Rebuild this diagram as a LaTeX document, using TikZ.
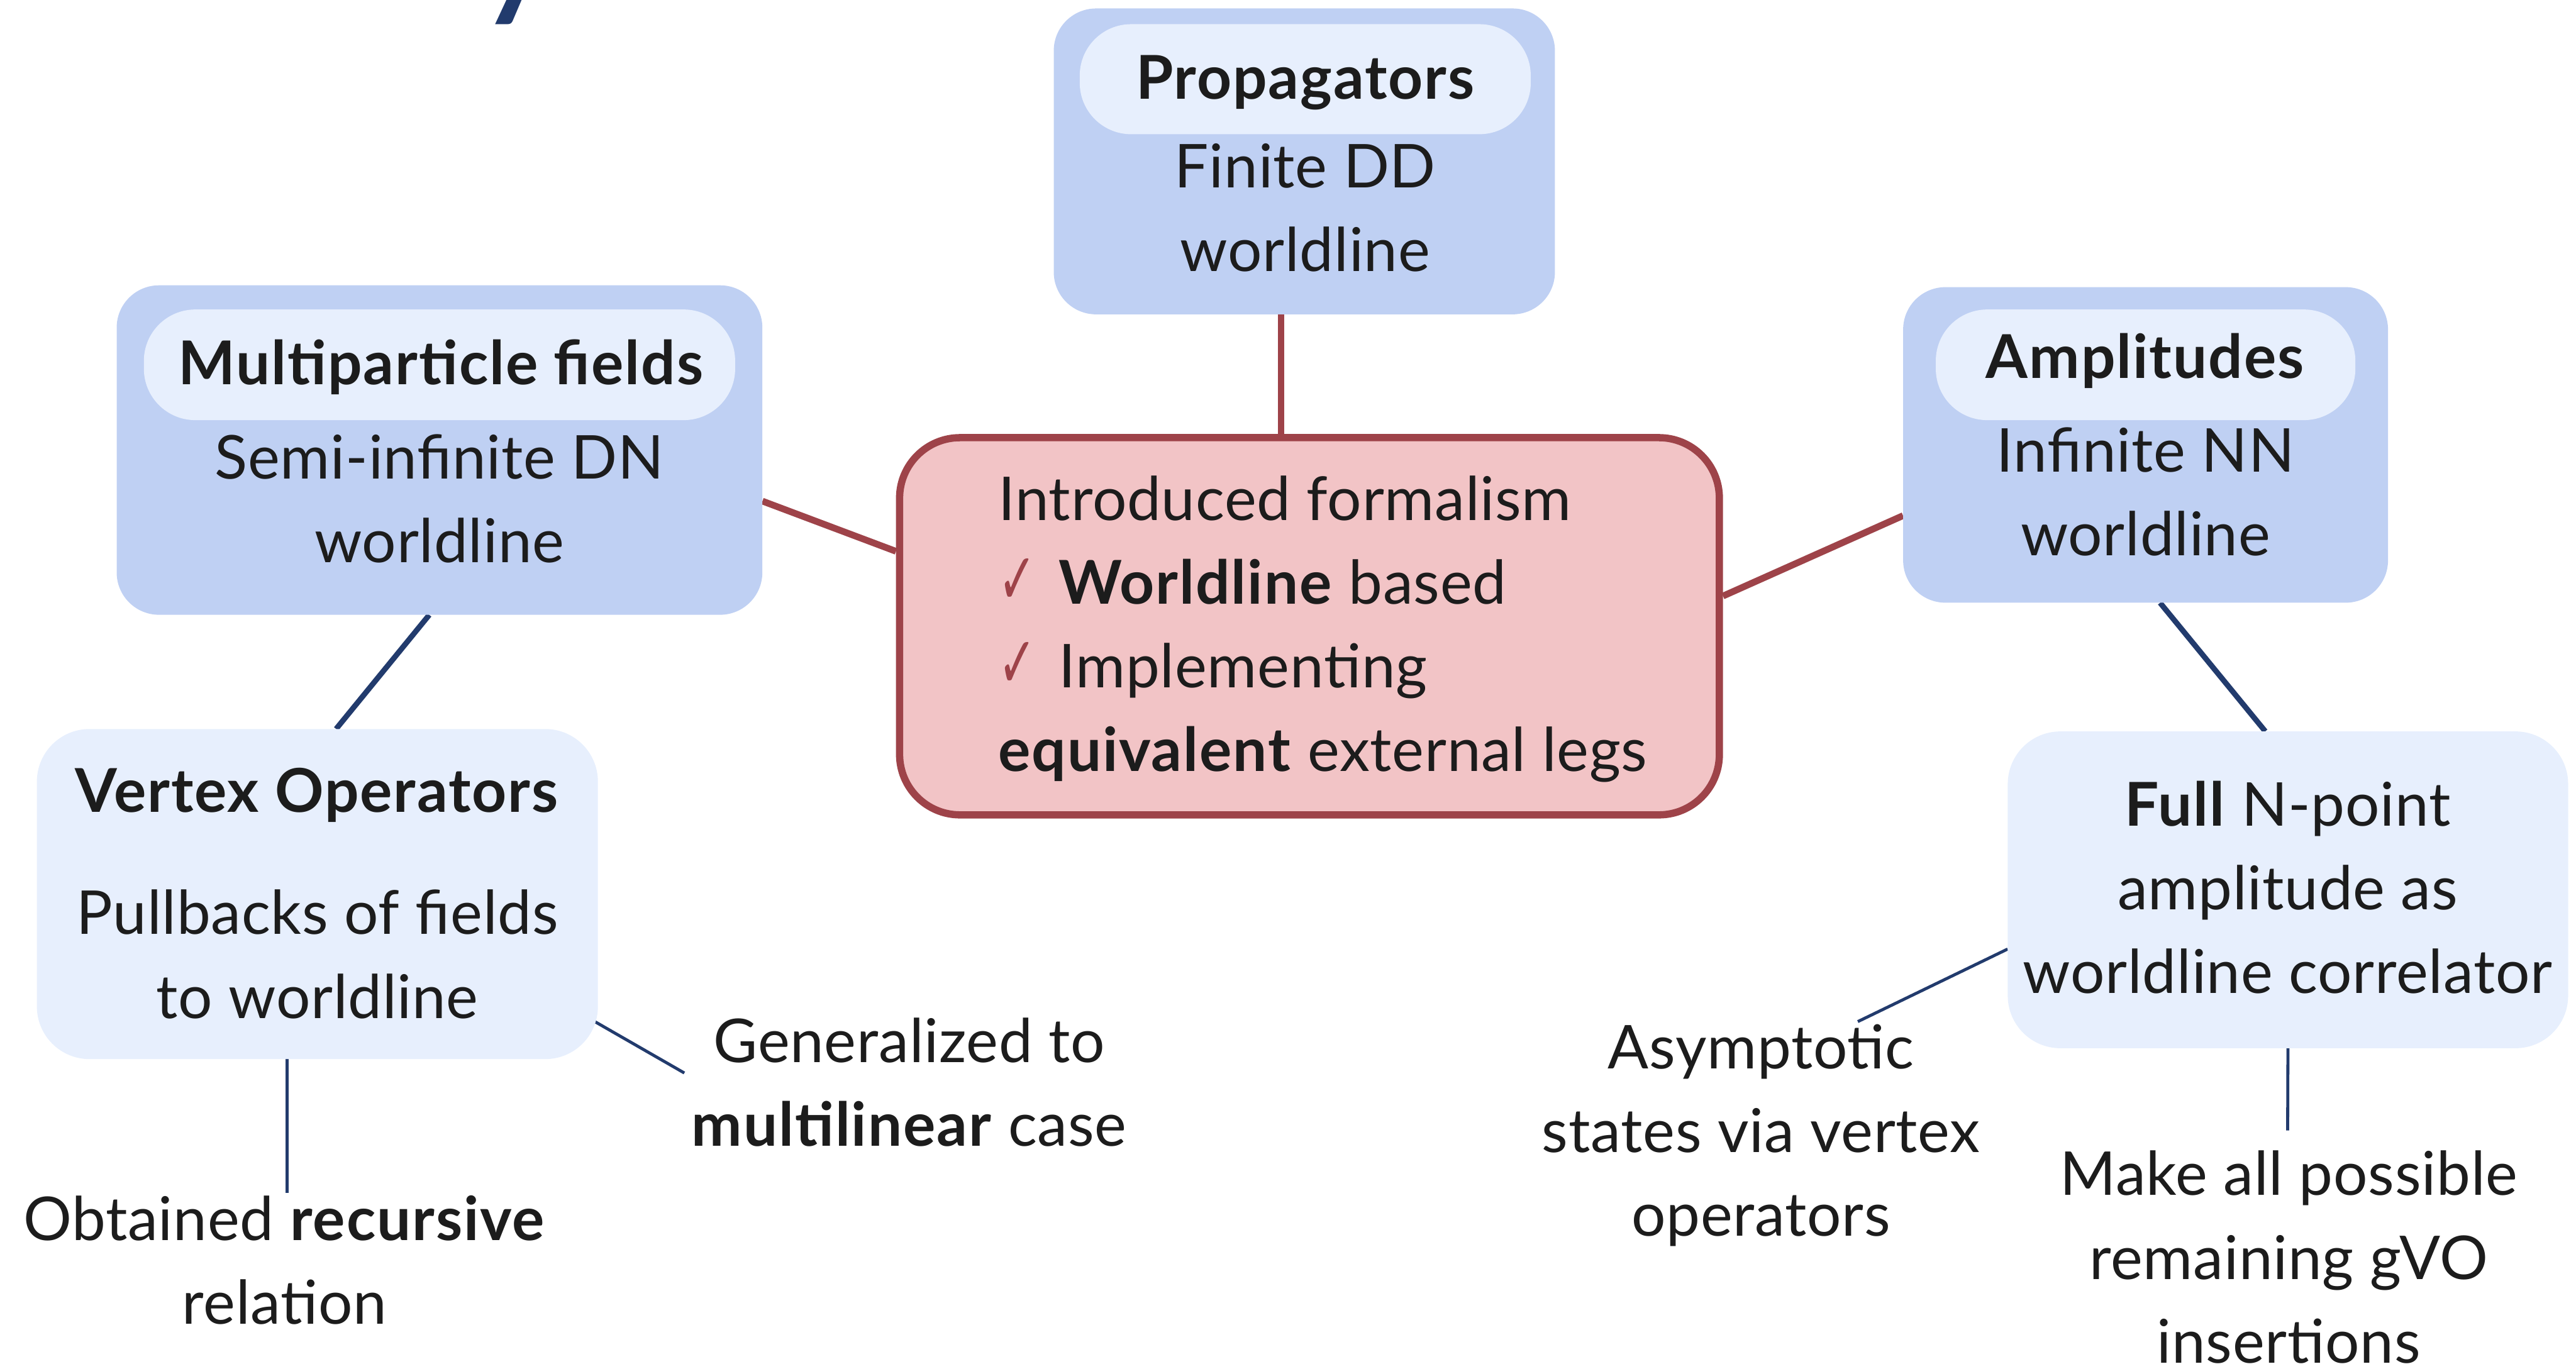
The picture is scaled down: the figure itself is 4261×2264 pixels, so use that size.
\documentclass[tikz,border=0pt]{standalone}
\usepackage{fontspec}
\setmainfont{Lato}[LetterSpace=0.8, BoldFeatures={LetterSpace=2}]
\newfontfamily\symfont{DejaVu Sans}
\usetikzlibrary{backgrounds}

\definecolor{bluemid}{RGB}{191,208,243}
\definecolor{bluelight}{RGB}{231,239,253}
\definecolor{pinkfill}{RGB}{242,196,198}
\definecolor{wine}{RGB}{158,67,73}
\definecolor{navy}{RGB}{34,59,109}
\definecolor{ink}{RGB}{28,28,28}

\newcommand\diagfont{\fontsize{100}{138.5}\selectfont}
\newcommand\tick{\resizebox*{63pt}{75pt}{\color{wine}\symfont ✓}}

\tikzset{
  outerbox/.style={fill=bluemid, rounded corners=70pt, inner sep=0pt},
  pillbox/.style={fill=bluelight, rounded corners=85pt, inner sep=0pt},
  lightbox/.style={fill=bluelight, rounded corners=87pt, inner sep=0pt},
  centbox/.style={fill=pinkfill, draw=wine, line width=12pt, rounded corners=100pt, inner sep=0pt},
  heading/.style={font=\diagfont\bfseries, text=ink, inner sep=0pt, anchor=base},
  body/.style={font=\diagfont, text=ink, inner sep=0pt, align=center},
  redlink/.style={draw=wine, line width=11pt},
  bluelink/.style={draw=navy, line width=9pt},
  thinlink/.style={draw=navy, line width=5pt},
}

\begin{document}
\begin{tikzpicture}[x=1pt, y=-1pt]
\useasboundingbox (0,0) rectangle (4261,2264);

% part of the slide title above the diagram
\node[font=\fontsize{220}{220}\selectfont\bfseries, text=navy, anchor=base, inner sep=0pt] (ttl) at (852,4) {y};

% boxes
\node[outerbox, minimum width=829pt, minimum height=506pt] (prop) at (2157.5,267) {};
\node[pillbox, minimum width=746pt, minimum height=182pt] (proppill) at (2159,131) {};
\node[outerbox, minimum width=1068pt, minimum height=545pt] (multi) at (727,744.5) {};
\node[pillbox, minimum width=978pt, minimum height=183pt] (multipill) at (727,603.5) {};
\node[outerbox, minimum width=802pt, minimum height=522pt] (amp) at (3549,736) {};
\node[pillbox, minimum width=694pt, minimum height=183pt] (amppill) at (3549,603.5) {};
\node[centbox, minimum width=1356pt, minimum height=624pt] (cen) at (2166,1036) {};
\node[lightbox, minimum width=928pt, minimum height=546pt] (vtx) at (525,1479) {};
\node[lightbox, minimum width=927pt, minimum height=524pt] (full) at (3784.5,1472) {};

% box texts
\node[heading] (propttl) at (2159,164) {Propagators};
\node[body] (proptxt) at (2159,351.8) {\strut Finite DD\\\strut worldline};
\node[heading] (multittl) at (729,636) {Multiparticle fields};
\node[body] (multitxt) at (727,833.8) {\strut Semi-infinite DN\\\strut worldline};
\node[heading] (ampttl) at (3548,626) {Amplitudes};
\node[body] (amptxt) at (3549,822.3) {\strut Infinite NN\\\strut worldline};
\node[body, align=left, anchor=west] (centxt) at (1651,1040.8)
  {\strut Introduced formalism\\
   \strut\tick\hspace{37pt}\textbf{Worldline} based\\
   \strut\tick\hspace{37pt}Implementing\\
   \strut\textbf{equivalent} external legs};
\node[heading] (vtxttl) at (524,1344) {Vertex Operators};
\node[body] (vtxtxt) at (525,1587.3) {\strut Pullbacks of fields\\\strut to worldline};
\node[body] (fulltxt) at (3784,1476.8) {\strut\textbf{Full} N-point\\\strut amplitude as\\\strut worldline correlator};

% free notes
\node[body] (gen) at (1504,1799.3) {\strut Generalized to\\\strut\textbf{multilinear} case};
\node[body] (obt) at (471,2093.8) {\strut Obtained \textbf{recursive}\\\strut relation};
\node[body] (asy) at (2913,1878.3) {\strut Asymptotic\\\strut states via vertex\\\strut operators};
\node[body] (mak) at (3786,2088.3) {\strut Make all possible\\\strut remaining gVO\\\strut insertions};

% free ends of the note connectors
\coordinate (genend) at (1132,1775);
\coordinate (obtend) at (475,1973);
\coordinate (asyend) at (3073,1690);
\coordinate (makend) at (3784,1870);

\begin{scope}[on background layer]
  \draw[redlink] ([xshift=-38.5pt]prop.south) -- ([xshift=-47pt]cen.north);
  \draw[redlink] ([yshift=-84.5pt]multi.east) -- ([yshift=124pt]cen.west);
  \draw[redlink] ([yshift=-117pt]amp.west) -- ([yshift=50pt]cen.east);
  \draw[bluelink] ([xshift=-17pt]multi.south) -- ([xshift=31pt]vtx.north);
  \draw[bluelink] ([xshift=24pt]amp.south) -- ([xshift=-37.5pt]full.north);
  \draw[thinlink] ([xshift=-7pt,yshift=-210pt]vtx.east) -- (genend);
  \draw[thinlink] ([xshift=-50pt]vtx.south) -- (obtend);
  \draw[thinlink] ([yshift=-98pt]full.west) -- (asyend);
  \draw[thinlink] (full.south) -- (makend);
\end{scope}
\end{tikzpicture}
\end{document}
